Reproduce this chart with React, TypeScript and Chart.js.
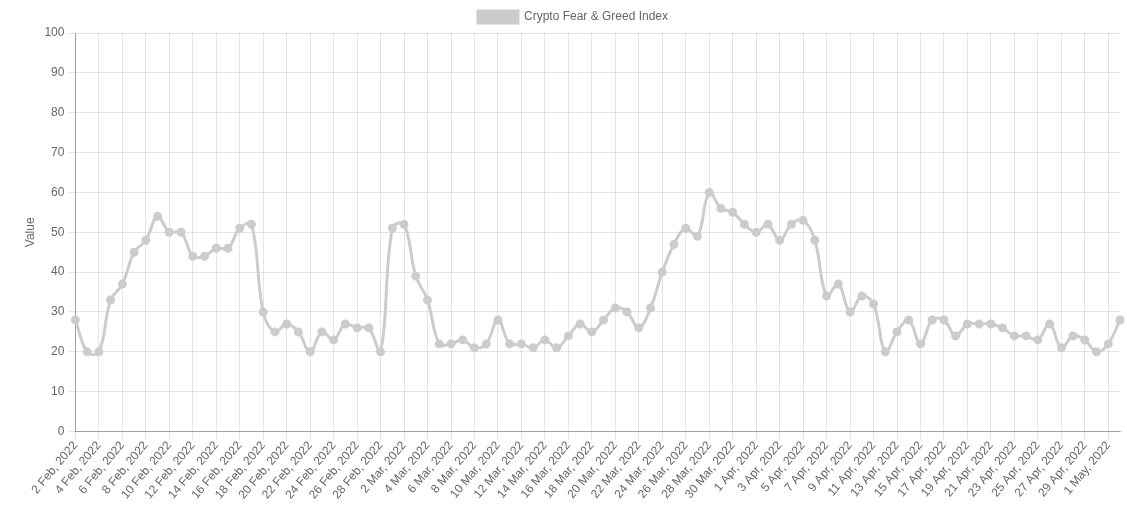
import React, { useEffect, useRef } from "react";
import { Chart, registerables } from "chart.js";

Chart.register(...registerables);

const seriesLabel = "Crypto Fear & Greed Index";

const dates: string[] = [
  "2 Feb, 2022", "3 Feb, 2022", "4 Feb, 2022", "5 Feb, 2022", "6 Feb, 2022", "7 Feb, 2022",
  "8 Feb, 2022", "9 Feb, 2022", "10 Feb, 2022", "11 Feb, 2022", "12 Feb, 2022", "13 Feb, 2022",
  "14 Feb, 2022", "15 Feb, 2022", "16 Feb, 2022", "17 Feb, 2022", "18 Feb, 2022", "19 Feb, 2022",
  "20 Feb, 2022", "21 Feb, 2022", "22 Feb, 2022", "23 Feb, 2022", "24 Feb, 2022", "25 Feb, 2022",
  "26 Feb, 2022", "27 Feb, 2022", "28 Feb, 2022",
  "1 Mar, 2022", "2 Mar, 2022", "3 Mar, 2022", "4 Mar, 2022", "5 Mar, 2022", "6 Mar, 2022",
  "7 Mar, 2022", "8 Mar, 2022", "9 Mar, 2022", "10 Mar, 2022", "11 Mar, 2022", "12 Mar, 2022",
  "13 Mar, 2022", "14 Mar, 2022", "15 Mar, 2022", "16 Mar, 2022", "17 Mar, 2022", "18 Mar, 2022",
  "19 Mar, 2022", "20 Mar, 2022", "21 Mar, 2022", "22 Mar, 2022", "23 Mar, 2022", "24 Mar, 2022",
  "25 Mar, 2022", "26 Mar, 2022", "27 Mar, 2022", "28 Mar, 2022", "29 Mar, 2022", "30 Mar, 2022",
  "31 Mar, 2022",
  "1 Apr, 2022", "2 Apr, 2022", "3 Apr, 2022", "4 Apr, 2022", "5 Apr, 2022", "6 Apr, 2022",
  "7 Apr, 2022", "8 Apr, 2022", "9 Apr, 2022", "10 Apr, 2022", "11 Apr, 2022", "12 Apr, 2022",
  "13 Apr, 2022", "14 Apr, 2022", "15 Apr, 2022", "16 Apr, 2022", "17 Apr, 2022", "18 Apr, 2022",
  "19 Apr, 2022", "20 Apr, 2022", "21 Apr, 2022", "22 Apr, 2022", "23 Apr, 2022", "24 Apr, 2022",
  "25 Apr, 2022", "26 Apr, 2022", "27 Apr, 2022", "28 Apr, 2022", "29 Apr, 2022", "30 Apr, 2022",
  "1 May, 2022", "2 May, 2022",
];

const values: number[] = [
  28, 20, 20, 33, 37, 45, 48, 54, 50, 50, 44, 44, 46, 46, 51, 52, 30, 25, 27, 25, 20, 25, 23, 27, 26, 26, 20,
  51, 52, 39, 33, 22, 22, 23, 21, 22, 28, 22, 22, 21, 23, 21, 24, 27, 25, 28, 31, 30, 26, 31, 40, 47, 51, 49,
  60, 56, 55, 52,
  50, 52, 48, 52, 53, 48, 34, 37, 30, 34, 32, 20, 25, 28, 22, 28, 28, 24, 27, 27, 27, 26, 24, 24, 23, 27, 21,
  24, 23, 20, 22, 28,
];

const yTitle = "Value";

export default function App() {
  const ref = useRef<HTMLCanvasElement | null>(null);
  useEffect(() => {
    if (!ref.current) return;
    Chart.defaults.font.family = "'Liberation Sans', Arial, sans-serif";
    Chart.defaults.color = "#666";
    const chart = new Chart(ref.current, {
      type: "line",
      data: {
        labels: dates,
        datasets: [
          {
            label: seriesLabel,
            data: values,
            borderColor: "rgb(204,204,204)",
            backgroundColor: "rgb(204,204,204)",
            pointBackgroundColor: "rgb(204,204,204)",
            pointBorderColor: "rgb(204,204,204)",
            borderWidth: 3,
            pointRadius: 3,
            tension: 0.4,
            fill: false,
          },
        ],
      },
      options: {
        animation: false,
        responsive: true,
        maintainAspectRatio: false,
        layout: { padding: { left: 19, right: 0, top: 1 } },
        plugins: {
          legend: {
            display: true,
            labels: { boxWidth: 40, font: { size: 12 } },
          },
          tooltip: { enabled: false },
        },
        scales: {
          x: {
            afterFit: (scale: any) => {
              scale.height += 4;
            },
            grid: { color: "rgba(0,0,0,0.1)" },
            border: { color: "rgba(0,0,0,0.3)" },
            ticks: {
              minRotation: 50,
              maxRotation: 50,
              autoSkip: false,
              padding: -1,
              font: { size: 12 },
              callback: (_v: any, i: number) => (i % 2 === 0 ? dates[i] : null),
            },
          },
          y: {
            min: 0,
            max: 100,
            grid: { color: "rgba(0,0,0,0.1)" },
            border: { color: "rgba(0,0,0,0.3)" },
            ticks: { stepSize: 10, font: { size: 12 } },
            title: { display: true, text: yTitle, font: { size: 12 } },
          },
        },
      },
    });
    return () => chart.destroy();
  }, []);
  return (
    <div style={{ position: "absolute", left: 0, top: 0, width: "1127px", height: "505px" }}>
      <canvas ref={ref} />
    </div>
  );
}
